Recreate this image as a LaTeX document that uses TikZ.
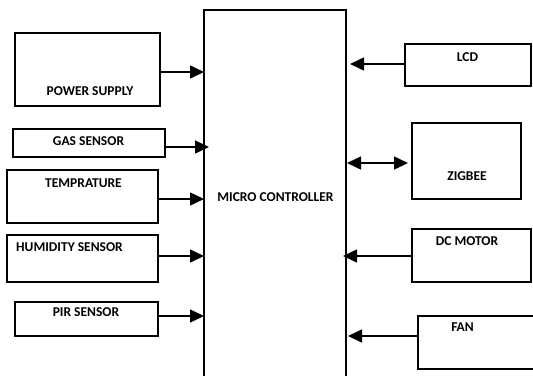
\documentclass[tikz,border=0pt]{standalone}
\usepackage{fontspec}
\setmainfont{Carlito}
\usetikzlibrary{arrows.meta}

\begin{document}
\begin{tikzpicture}[x=1pt, y=-1pt,
    blk/.style={draw, line width=1.5pt, inner sep=0pt, outer sep=0pt},
    lbl/.style={font=\bfseries\fontsize{13.5}{15}\selectfont, inner sep=0pt},
    arr/.style={line width=1.5pt, -{Triangle[length=14pt,width=13pt]}},
    darr/.style={line width=1.5pt, {Triangle[length=14pt,width=13pt]}-{Triangle[length=14pt,width=13pt]}}]

    \clip (0,0) rectangle (533,375);
    \fill[white] (0,0) rectangle (533,375);

    % controller in the middle, running off the bottom
    \node[blk, minimum width=142pt, minimum height=380pt] (mc) at (275,200) {};
    \node[lbl] (mctxt) at (275.5,197.5) {MICRO CONTROLLER};

    % inputs on the left
    \node[blk, minimum width=145pt, minimum height=73pt] (pwr) at (87.5,69.5) {};
    \node[lbl] (pwrtxt) at (90,91) {POWER SUPPLY};
    \node[blk, minimum width=152pt, minimum height=28pt] (gas) at (89,143) {};
    \node[lbl] (gastxt) at (88.5,141) {GAS SENSOR};
    \node[blk, minimum width=151pt, minimum height=53pt] (temp) at (82.5,196.5) {};
    \node[lbl] (temptxt) at (83.5,183) {TEMPRATURE};
    \node[blk, minimum width=151pt, minimum height=47pt] (hum) at (82.5,258.5) {};
    \node[lbl] (humtxt) at (69.5,247) {HUMIDITY SENSOR};
    \node[blk, minimum width=143pt, minimum height=34pt] (pir) at (86.5,319) {};
    \node[lbl] (pirtxt) at (86,312.5) {PIR SENSOR};

    % outputs on the right
    \node[blk, minimum width=126pt, minimum height=42pt] (lcd) at (468,65) {};
    \node[lbl] (lcdtxt) at (467.5,57) {LCD};
    \node[blk, minimum width=109pt, minimum height=76pt] (zig) at (466.5,161) {};
    \node[lbl] (zigtxt) at (467,176) {ZIGBEE};
    \node[blk, minimum width=119pt, minimum height=53pt] (dcm) at (471.5,255.5) {};
    \node[lbl] (dcmtxt) at (467,241) {DC MOTOR};
    \node[blk, minimum width=127pt, minimum height=53pt] (fan) at (481.5,342.5) {};
    \node[lbl] (fantxt) at (462.5,327.5) {FAN};

    % connections
    \draw[arr] ([yshift=-2.5pt]pwr.east) -- ([yshift=-2.5pt]pwr.east -| mc.west);
    \draw[arr, shorten >=-5pt] ([yshift=-4pt]gas.east) -- ([yshift=-4pt]gas.east -| mc.west);
    \draw[arr] ([yshift=-2.5pt]temp.east) -- ([yshift=-2.5pt]temp.east -| mc.west);
    \draw[arr] ([yshift=2.5pt]hum.east) -- ([yshift=2.5pt]hum.east -| mc.west);
    \draw[arr] ([yshift=3pt]pir.east) -- ([yshift=3pt]pir.east -| mc.west);

    \draw[arr, shorten >=4pt] ([yshift=1pt]lcd.west) -- ([yshift=1pt]lcd.west -| mc.east);
    \draw[darr, shorten <=1pt, shorten >=4pt] ([yshift=-2pt]zig.west -| mc.east) -- ([yshift=-2pt]zig.west);
    \draw[arr, shorten >=-3pt] ([yshift=-0.5pt]dcm.west) -- ([yshift=-0.5pt]dcm.west -| mc.east);
    \draw[arr, shorten >=2pt] ([yshift=6.5pt]fan.west) -- ([yshift=6.5pt]fan.west -| mc.east);

\end{tikzpicture}
\end{document}
